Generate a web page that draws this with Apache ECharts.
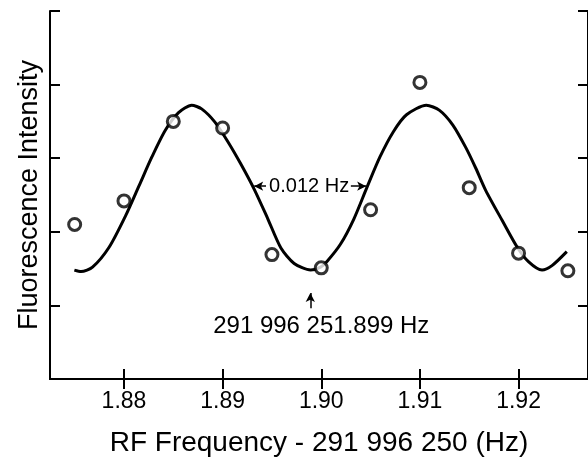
<!DOCTYPE html>
<html lang="en">
<head>
    <meta charset="UTF-8">
    <title>RF Frequency scan</title>
    <style>
        html, body { margin: 0; padding: 0; background: #fff; }
    </style>
</head>
<body>
<div id="main" style="width: 588px;height:462px;"></div>
<script src="https://cdn.jsdelivr.net/npm/echarts@6.0.0/dist/echarts.min.js"></script>
<script>
    // measured points (x = RF - 291 996 250 Hz)
    var pointX = [1.875, 1.880, 1.885, 1.890, 1.895, 1.900, 1.905, 1.910, 1.915, 1.920, 1.925];
    var pointY = [2.10, 2.42, 3.50, 3.41, 1.69, 1.51, 2.30, 4.03, 2.60, 1.71, 1.47];

    // fitted curve
    var curveX = [1.87497, 1.87565, 1.87681, 1.87849, 1.88017, 1.88151, 1.88284, 1.88419, 1.88553, 1.88686,
        1.88787, 1.88922, 1.89055, 1.89189, 1.89323, 1.89457, 1.89591, 1.89725, 1.89892, 1.89993,
        1.90060, 1.90194, 1.90329, 1.90462, 1.90596, 1.90731, 1.90864, 1.91065, 1.91199, 1.91334,
        1.91467, 1.91568, 1.91668, 1.91836, 1.91987, 1.92103, 1.92238, 1.92339, 1.92489];
    var curveY = [1.48, 1.46, 1.52, 1.79, 2.22, 2.62, 3.02, 3.38, 3.62, 3.72,
        3.67, 3.49, 3.22, 2.91, 2.57, 2.18, 1.78, 1.57, 1.48, 1.52,
        1.60, 1.83, 2.17, 2.60, 3.02, 3.36, 3.59, 3.72, 3.65, 3.45,
        3.14, 2.86, 2.56, 2.15, 1.79, 1.59, 1.48, 1.54, 1.73];

    var xTicks = [1.88, 1.89, 1.90, 1.91, 1.92];
    var xTitle = 'RF Frequency - 291 996 250 (Hz)';
    var yTitle = 'Fluorescence Intensity';

    var chart = echarts.init(document.getElementById('main'));
    var plain = '"Liberation Sans", "Noto Sans", sans-serif';

    var tickStyle = { show: true, inside: true, length: 10, lineStyle: { color: '#000', width: 2 } };
    var lineStyle = { show: true, lineStyle: { color: '#000', width: 2 } };

    option = {
        animation: false,
        backgroundColor: '#fff',
        grid: { left: 50, top: 11, right: -5, bottom: 79 },
        xAxis: [
            {
                type: 'value', min: 1.8725, max: 1.92704, position: 'bottom',
                name: xTitle, nameLocation: 'middle', nameGap: 50,
                nameTextStyle: { color: '#000', fontSize: 28, fontFamily: plain },
                axisLine: lineStyle,
                axisTick: Object.assign({ customValues: xTicks }, tickStyle),
                axisLabel: {
                    customValues: xTicks, margin: 11, color: '#000', fontSize: 23, fontFamily: plain,
                    formatter: function (v) { return v.toFixed(2); }
                },
                splitLine: { show: false }
            },
            {
                type: 'value', min: 1.8725, max: 1.92704, position: 'top',
                axisLine: lineStyle,
                axisTick: Object.assign({ customValues: xTicks }, tickStyle),
                axisLabel: { show: false },
                splitLine: { show: false }
            }
        ],
        yAxis: [
            {
                type: 'value', min: 0, max: 5, interval: 1, position: 'left',
                name: yTitle, nameLocation: 'middle', nameGap: 7,
                nameTextStyle: { color: '#000', fontSize: 27, fontFamily: plain },
                axisLine: lineStyle, axisTick: tickStyle,
                axisLabel: { show: false }, splitLine: { show: false }
            },
            {
                type: 'value', min: 0, max: 5, interval: 1, position: 'right',
                axisLine: lineStyle, axisTick: tickStyle,
                axisLabel: { show: false }, splitLine: { show: false }
            }
        ],
        series: [
            {
                name: 'fit',
                type: 'line',
                smooth: 0.25,
                showSymbol: false,
                lineStyle: { color: '#000', width: 3 },
                data: curveX.map(function (x, i) { return [x, curveY[i]]; }),
                markLine: {
                    silent: true,
                    symbol: ['none', 'arrow'],
                    symbolSize: [7, 9],
                    label: { show: false },
                    lineStyle: { color: '#000', width: 1.5, type: 'solid' },
                    data: [
                        [{ coord: [1.89440, 2.62] }, { coord: [1.89320, 2.62] }],
                        [{ coord: [1.90300, 2.62] }, { coord: [1.90455, 2.62] }],
                        [{ coord: [1.89889, 0.96] }, { coord: [1.89889, 1.17] }]
                    ]
                },
                markPoint: {
                    silent: true,
                    symbol: 'circle',
                    symbolSize: 1,
                    itemStyle: { color: 'transparent' },
                    label: { show: true, position: 'inside', color: '#000', fontFamily: plain },
                    data: [
                        { coord: [1.89877, 2.62], label: { formatter: '0.012 Hz', fontSize: 20 } },
                        { coord: [1.90000, 0.72], label: { formatter: '291 996 251.899 Hz', fontSize: 24 } }
                    ]
                }
            },
            {
                name: 'data',
                type: 'scatter',
                symbol: 'circle',
                symbolSize: 12,
                z: 5,
                itemStyle: { color: '#fff', borderColor: '#000', borderWidth: 3 },
                data: pointX.map(function (x, i) { return [x, pointY[i]]; })
            }
        ]
    };

    chart.setOption(option);
</script>
</body>
</html>
